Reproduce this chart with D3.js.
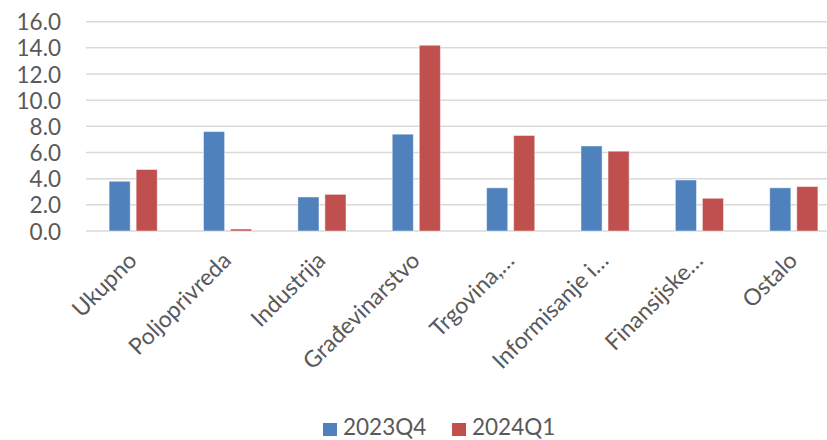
<!DOCTYPE html>
<html>
<head>
<meta charset="utf-8">
<script src="https://cdn.jsdelivr.net/npm/d3@7"></script>
<style>
  html, body { margin: 0; padding: 0; background: #fff; }
  svg { display: block; font-family: Lato, "Noto Sans", sans-serif; }
</style>
</head>
<body>
<div id="chart"></div>
<script>
const categories = ["Ukupno", "Poljoprivreda", "Industrija", "Građevinarstvo", "Trgovina,…", "Informisanje i…", "Finansijske…", "Ostalo"];
const seriesNames = ["2023Q4", "2024Q1"];
const values2023Q4 = [3.8, 7.6, 2.6, 7.4, 3.3, 6.5, 3.9, 3.3];
const values2024Q1 = [4.7, 0.15, 2.8, 14.2, 7.3, 6.1, 2.5, 3.4];
const yTicks = [0, 2, 4, 6, 8, 10, 12, 14, 16];
const colors = ["#4F81BD", "#C0504D"];

const W = 827, H = 440;
const svg = d3.select("#chart").append("svg").attr("width", W).attr("height", H);

const x0 = d3.scaleBand().domain(categories).range([86, 841]).paddingInner(0.49).paddingOuter(0.245);
const x1 = d3.scaleBand().domain(seriesNames).range([0, x0.bandwidth()]).paddingInner(0.22).paddingOuter(0);
const y = d3.scaleLinear().domain([0, 16]).range([231, 21.7]);

// gridlines
svg.append("g").selectAll("line").data(yTicks).join("line")
  .attr("x1", 86).attr("x2", 841)
  .attr("y1", d => y(d)).attr("y2", d => y(d))
  .attr("stroke", "#D9D9D9").attr("stroke-width", 1.5);

// y axis labels
const yAxis = d3.axisLeft(y).tickValues(yTicks).tickFormat(d3.format(".1f")).tickSize(0).tickPadding(0);
const gy = svg.append("g").attr("transform", "translate(61,0)").call(yAxis);
gy.select(".domain").remove();
gy.selectAll("text").attr("fill", "#595959").attr("font-size", 22.5).attr("font-family", "Lato, 'Noto Sans', sans-serif").attr("dy", "0.36em");

// bars
const rows = categories.map((c, i) => ({ c, vals: [values2023Q4[i], values2024Q1[i]] }));
const groups = svg.append("g").selectAll("g").data(rows).join("g")
  .attr("transform", d => `translate(${x0(d.c)},0)`);
groups.selectAll("rect").data(d => d.vals.map((v, j) => ({ s: seriesNames[j], v, j })))
  .join("rect")
  .attr("x", d => x1(d.s))
  .attr("width", x1.bandwidth())
  .attr("y", d => y(d.v))
  .attr("height", d => y(0) - y(d.v))
  .attr("fill", d => colors[d.j])
  .attr("stroke", "rgba(255,255,255,0.45)")
  .attr("stroke-width", 1);

// x labels
svg.append("g").selectAll("text").data(categories).join("text")
  .attr("transform", d => `translate(${x0(d) + x0.bandwidth() / 2 + 5},262) rotate(-45)`)
  .attr("text-anchor", "end")
  .attr("fill", "#595959")
  .attr("font-size", 23)
  .text(d => d);

// legend
const legend = svg.append("g");
const legendX = [323, 452];
seriesNames.forEach((s, j) => {
  legend.append("rect").attr("x", legendX[j]).attr("y", 423).attr("width", 14).attr("height", 13).attr("fill", colors[j]);
  legend.append("text").attr("x", legendX[j] + 20).attr("y", 435).attr("fill", "#595959").attr("font-size", 22.5).text(s);
});
</script>
</body>
</html>
